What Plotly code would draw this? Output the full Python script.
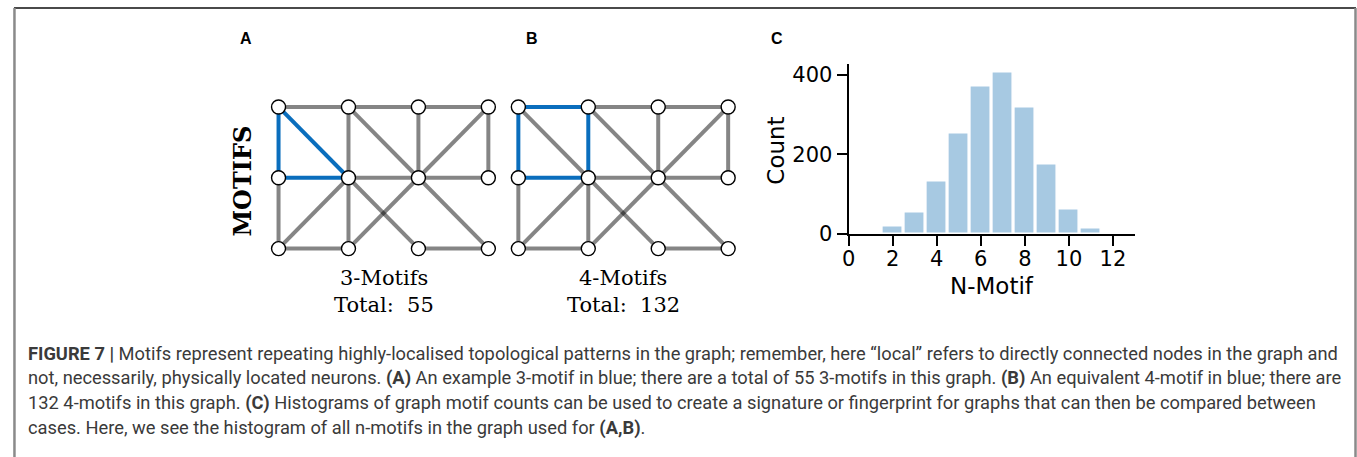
import plotly.graph_objects as go

W, H = 1357, 457          # reference picture size (layout coordinates below)
PAGE_H = 471              # page height used so the photographed picture lands at 457

# ---- graph data (panels A and B) ----
node_cols = [0, 1, 2, 3, 0, 1, 2, 3, 0, 1, 2, 3]
node_rows = [2, 2, 2, 2, 1, 1, 1, 1, 0, 0, 0, 0]
edges = [
    (0, 1), (1, 2), (2, 3),
    (4, 5), (5, 6), (6, 7),
    (8, 9), (10, 11),
    (0, 4), (4, 8), (1, 5), (5, 9), (2, 6), (3, 7),
    (0, 5), (1, 6), (6, 11), (3, 6), (6, 9), (8, 5), (5, 10),
]
motif_a = [(0, 4), (4, 5), (0, 5)]
motif_b = [(0, 1), (1, 5), (5, 4), (4, 0)]

# ---- histogram data (panel C) ----
motif_n = [2, 3, 4, 5, 6, 7, 8, 9, 10, 11]
motif_counts = [19, 54, 131, 252, 371, 405, 318, 174, 60, 12]
x_ticks = [0, 2, 4, 6, 8, 10, 12]
y_ticks = [0, 200, 400]

caption_lines = [
    "<b>FIGURE 7 |</b> Motifs represent repeating highly-localised topological patterns in the graph; remember, here \u201clocal\u201d refers to directly connected nodes in the graph and",
    "not, necessarily, physically located neurons. <b>(A)</b> An example 3-motif in blue; there are a total of 55 3-motifs in this graph. <b>(B)</b> An equivalent 4-motif in blue; there are",
    "132 4-motifs in this graph. <b>(C)</b> Histograms of graph motif counts can be used to create a signature or fingerprint for graphs that can then be compared between",
    "cases. Here, we see the histogram of all n-motifs in the graph used for <b>(A,B)</b>.",
]


def px(x):
    return x / W


def py(y):
    return 1 - y / H


GRAY = "rgba(0,0,0,0.48)"
BLUE = "#0a6ebd"

fig = go.Figure()


def add_graph(xa, ya, motif):
    motif_set = set(tuple(sorted(e)) for e in motif)
    for (a, b) in edges:
        if tuple(sorted((a, b))) in motif_set:
            continue
        fig.add_trace(go.Scatter(
            x=[node_cols[a], node_cols[b]], y=[node_rows[a], node_rows[b]],
            mode="lines", line=dict(color=GRAY, width=4),
            xaxis=xa, yaxis=ya, hoverinfo="skip", showlegend=False))
    for (a, b) in motif:
        fig.add_trace(go.Scatter(
            x=[node_cols[a], node_cols[b]], y=[node_rows[a], node_rows[b]],
            mode="lines", line=dict(color=BLUE, width=4),
            xaxis=xa, yaxis=ya, hoverinfo="skip", showlegend=False))
    fig.add_trace(go.Scatter(
        x=node_cols, y=node_rows, mode="markers",
        marker=dict(size=14, color="white", line=dict(color="black", width=1.4)),
        xaxis=xa, yaxis=ya, hoverinfo="skip", showlegend=False, cliponaxis=False))


add_graph("x", "y", motif_a)
add_graph("x2", "y2", motif_b)

fig.add_trace(go.Bar(
    x=motif_n, y=motif_counts, width=0.92,
    marker=dict(color="#a7c9e2", line=dict(color="white", width=1.2)),
    xaxis="x3", yaxis="y3", showlegend=False))

hidden = dict(visible=False, showgrid=False, zeroline=False, fixedrange=True)

fig.update_layout(
    width=W, height=PAGE_H,
    margin=dict(l=0, r=0, t=0, b=0),
    paper_bgcolor="white", plot_bgcolor="rgba(0,0,0,0)",
    xaxis=dict(domain=[px(237.8), px(519.0)], range=[-0.5, 3.5], **hidden),
    yaxis=dict(domain=[py(282.75), py(71.25)], range=[-0.5, 2.5], **hidden),
    xaxis2=dict(domain=[px(478.85), px(760.05)], range=[-0.5, 3.5], **hidden),
    yaxis2=dict(domain=[py(282.75), py(71.25)], range=[-0.5, 2.5], **hidden),
    xaxis3=dict(domain=[px(846), px(1133.8)], range=[0, 13], tickvals=x_ticks,
                ticks="outside", ticklen=10, tickwidth=2, tickcolor="black",
                showline=True, linewidth=2, linecolor="black", showgrid=False,
                zeroline=False, anchor="y3", ticklabelstandoff=-5,
                tickfont=dict(family="DejaVu Sans", size=21, color="black")),
    yaxis3=dict(domain=[py(232.7), py(63.3)], range=[0, 428], tickvals=y_ticks,
                ticks="outside", ticklen=10, tickwidth=2, tickcolor="black",
                showline=True, linewidth=2, linecolor="black", showgrid=False,
                zeroline=False, anchor="x3",
                tickfont=dict(family="DejaVu Sans", size=21, color="black")),
    bargap=0,
)

ann = []
label_font = dict(family="Liberation Sans, Arial", size=16, color="black")
ann.append(dict(x=px(240), y=py(38), text="<b>A</b>", font=label_font))
ann.append(dict(x=px(528), y=py(38), text="<b>B</b>", font=label_font))
ann.append(dict(x=px(774), y=py(38), text="<b>C</b>", font=label_font))

serif = dict(family="DejaVu Serif", size=21, color="black")
ann.append(dict(x=px(237), y=py(180), text="<b>MOTIFS</b>", textangle=-90,
                font=dict(family="DejaVu Serif", size=24, color="black")))
ann.append(dict(x=px(378.5), y=py(277), text="3-Motifs", font=serif))
ann.append(dict(x=px(378.5), y=py(304), text="Total:  55", font=serif))
ann.append(dict(x=px(619.5), y=py(277), text="4-Motifs", font=serif))
ann.append(dict(x=px(619.5), y=py(304), text="Total:  132", font=serif))

sans = dict(family="DejaVu Sans", size=23, color="black")
ann.append(dict(x=px(773), y=py(150), text="Count", textangle=-90, font=sans))
ann.append(dict(x=px(990), y=py(285), text="N-Motif", font=sans))

cap_font = dict(family="Roboto", size=18.3, color="#3a3a3a")
for i, line in enumerate(caption_lines):
    ann.append(dict(x=px(19), y=py(352 + 24.8 * i), text=line, font=cap_font,
                    xanchor="left"))

for a in ann:
    a.setdefault("xanchor", "center")
    a.update(xref="paper", yref="paper", yanchor="middle", showarrow=False)
fig.update_layout(annotations=ann)

fig.update_layout(shapes=[
    dict(type="line", xref="paper", yref="paper", x0=px(7), x1=px(1356), y0=py(8), y1=py(8),
         line=dict(color="#4a4a4a", width=2)),
    dict(type="line", xref="paper", yref="paper", x0=px(7.5), x1=px(7.5), y0=py(8), y1=0,
         line=dict(color="#8a8a8a", width=2.5)),
    dict(type="line", xref="paper", yref="paper", x0=px(1355.5), x1=px(1355.5), y0=py(8), y1=0,
         line=dict(color="#8a8a8a", width=2.5)),
])

page_css = (
    "var s=document.createElement('style');"
    "s.textContent='html,body{margin:0;padding:0;overflow:hidden;}';"
    "document.head.appendChild(s);"
)

fig.write_html("out.html", config={"displayModeBar": False}, post_script=page_css)
